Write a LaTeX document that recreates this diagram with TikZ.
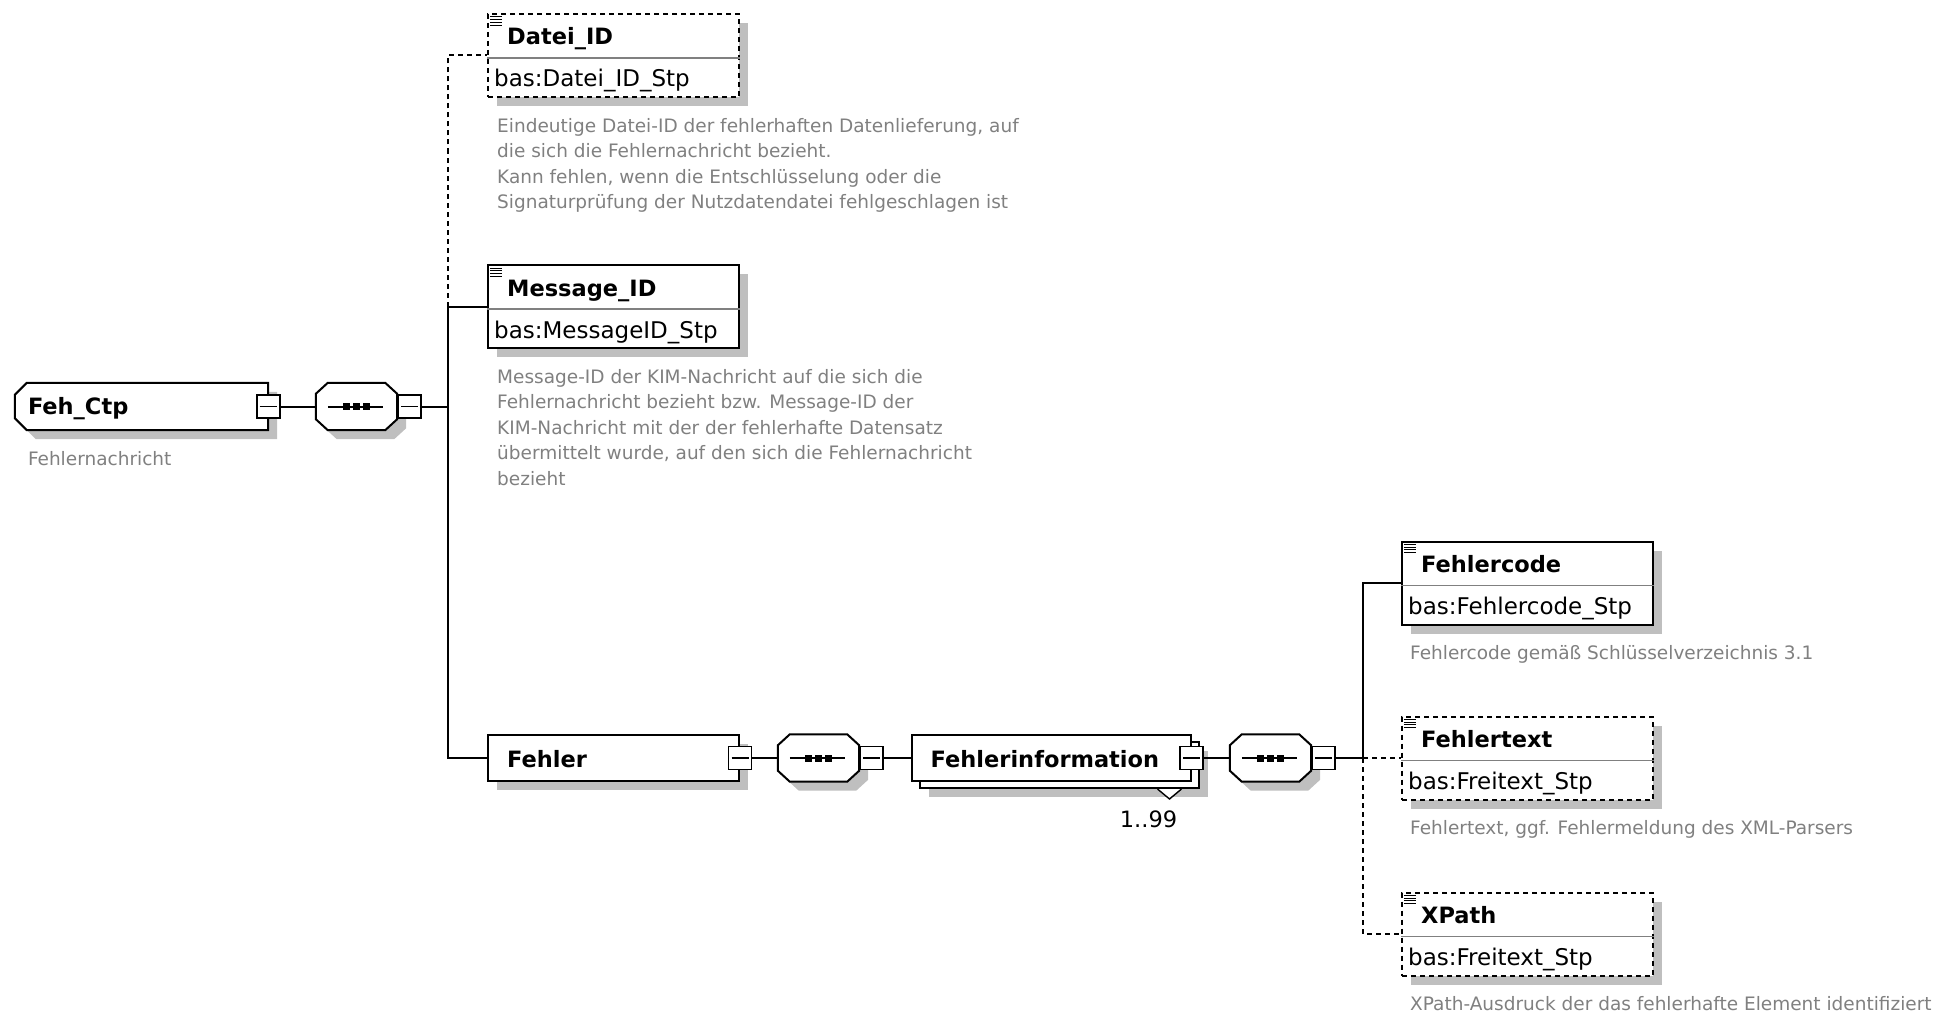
\documentclass[tikz,border=0pt]{standalone}
\usepackage{fontspec}
\setmainfont{DejaVu Sans}
\usepackage{tikz}
\usetikzlibrary{shadows,positioning,calc}

% chamfered outline of a sequence compositor, with its glyph
\newcommand{\seqshape}[1]{%
    \draw[outline, boxshadow] ($(#1.north west)+(12,0)$) -- ($(#1.north east)+(-12,0)$)
        -- ($(#1.north east)+(0,11)$) -- ($(#1.south east)+(0,-11)$)
        -- ($(#1.south east)+(-12,0)$) -- ($(#1.south west)+(12,0)$)
        -- ($(#1.south west)+(0,-11)$) -- ($(#1.north west)+(0,11)$) -- cycle;
    \draw[conn] ($(#1.west)+(12,0)$) -- ($(#1.east)+(-14,0)$);
    \foreach \d in {-10,0,10}
        \fill ($(#1.center)+(\d,0)$) +(-3.5,-3.5) rectangle +(3.5,3.5);
}

\begin{document}
\begin{tikzpicture}[x=1pt, y=-1pt,
    boxshadow/.style={drop shadow={shadow xshift=9pt, shadow yshift=-9pt, fill=black!25, opacity=1}},
    outline/.style={draw, line width=2pt, fill=white},
    hold/.style={rectangle, inner sep=0pt},
    plain/.style={outline, rectangle, inner sep=0pt},
    elem/.style={plain, boxshadow, minimum width=251pt, minimum height=83pt},
    optelem/.style={elem, dash pattern=on 5pt off 4pt},
    bar/.style={plain, minimum width=251pt, minimum height=46pt},
    minus/.style={draw, rectangle, line width=1.6pt, fill=white, inner sep=0pt, minimum size=23pt,
        path picture={\draw[line width=1.4pt] ([xshift=3pt]path picture bounding box.west)
            -- ([xshift=-3pt]path picture bounding box.east);}},
    conn/.style={line width=2pt},
    optconn/.style={conn, dash pattern=on 5pt off 4pt},
    divider/.style={line width=1.4pt, black!50},
    icon/.style={line width=1pt, black},
    ttl/.style={font=\fontsize{22.5}{27}\selectfont\bfseries, inner sep=0pt, anchor=base west},
    typ/.style={font=\fontsize{23}{27}\selectfont, inner sep=0pt, anchor=base west},
    doc/.style={font=\fontsize{18.5}{25.5}\selectfont, text=black!50, align=left, inner sep=0pt, anchor=north west},
    card/.style={font=\fontsize{22.5}{27}\selectfont, inner sep=0pt, anchor=base}
]
    \useasboundingbox (0,0) rectangle (1941,1014);

    % Root element
    \node[hold, minimum width=253pt, minimum height=47pt] (feh) at (141.5,406.5) {};
    \draw[outline, boxshadow] ($(feh.north west)+(12,0)$) -- (feh.north east) -- (feh.south east)
        -- ($(feh.south west)+(12,0)$) -- ($(feh.south west)+(0,-12)$)
        -- ($(feh.north west)+(0,12)$) -- cycle;
    \node[ttl] (fehName) at ($(feh.west)+(13,8)$) {Feh\_Ctp};
    \node[minus] (fehM) at (feh.east) {};
    \node[doc] (fehDoc) at ($(feh.west)+(13,45)$) {Fehlernachricht};

    % First sequence
    \node[hold, minimum width=81pt, minimum height=47pt] (seq1) at (356.5,406.5) {};
    \seqshape{seq1}
    \node[minus, anchor=west] (seq1M) at (seq1.east) {};
    \coordinate (t1) at (448,406.5);

    % Datei_ID (optional)
    \node[optelem] (datei) at (613.5,55.5) {};
    \node[ttl] (dateiName) at ($(datei.north west)+(20,32)$) {Datei\_ID};
    \node[typ] (dateiType) at ($(datei.north west)+(7,74)$) {bas:Datei\_ID\_Stp};
    \node[doc] (dateiDoc) at ($(datei.south west)+(10,20)$) {Eindeutige Datei-ID der fehlerhaften Datenlieferung, auf\\
        die sich die Fehlernachricht bezieht.\\
        Kann fehlen, wenn die Entschlüsselung oder die\\
        Signaturprüfung der Nutzdatendatei fehlgeschlagen ist};

    % Message_ID
    \node[elem] (msg) at (613.5,306.5) {};
    \node[ttl] (msgName) at ($(msg.north west)+(20,32)$) {Message\_ID};
    \node[typ] (msgType) at ($(msg.north west)+(7,74)$) {bas:MessageID\_Stp};
    \node[doc] (msgDoc) at ($(msg.south west)+(10,20)$) {Message-ID der KIM-Nachricht auf die sich die\\
        Fehlernachricht bezieht bzw. Message-ID der\\
        KIM-Nachricht mit der der fehlerhafte Datensatz\\
        übermittelt wurde, auf den sich die Fehlernachricht\\
        bezieht};

    % Fehler
    \node[bar, boxshadow] (fehler) at (613.5,758) {};
    \node[ttl] (fehlerName) at ($(fehler.west)+(20,9)$) {Fehler};
    \node[minus] (fehlerM) at (fehler.east) {};

    \node[hold, minimum width=81pt, minimum height=47pt] (seq2) at (818.5,758) {};
    \seqshape{seq2}
    \node[minus, anchor=west] (seq2M) at (seq2.east) {};

    % Fehlerinformation (1..99)
    \node[bar, boxshadow, minimum width=279pt] (infoB) at (1059,765) {};
    \draw[line width=1.4pt, fill=white] ([xshift=-42pt]infoB.south east) -- ++(12,10) -- ++(12,-10);
    \node[bar, minimum width=279pt] (info) at (1051,758) {};
    \node[ttl] (infoName) at ($(info.west)+(20,9)$) {Fehlerinformation};
    \node[minus] (infoM) at (info.east) {};
    \node[card] (infoCard) at ($(infoB.south east)+(-51,38)$) {1..99};

    \node[hold, minimum width=81pt, minimum height=47pt] (seq3) at (1270.5,758) {};
    \seqshape{seq3}
    \node[minus, anchor=west] (seq3M) at (seq3.east) {};
    \coordinate (t2) at (1363,758);

    % Fehlercode
    \node[elem] (code) at (1527.5,583) {};
    \node[ttl] (codeName) at ($(code.north west)+(20,32)$) {Fehlercode};
    \node[typ] (codeType) at ($(code.north west)+(7,74)$) {bas:Fehlercode\_Stp};
    \node[doc] (codeDoc) at ($(code.south west)+(9,20)$) {Fehlercode gemäß Schlüsselverzeichnis 3.1};

    % Fehlertext (optional)
    \node[optelem] (ftext) at (1527.5,758) {};
    \node[ttl] (ftextName) at ($(ftext.north west)+(20,32)$) {Fehlertext};
    \node[typ] (ftextType) at ($(ftext.north west)+(7,74)$) {bas:Freitext\_Stp};
    \node[doc] (ftextDoc) at ($(ftext.south west)+(9,20)$) {Fehlertext, ggf. Fehlermeldung des XML-Parsers};

    % XPath (optional)
    \node[optelem] (xpath) at (1527.5,934) {};
    \node[ttl] (xpathName) at ($(xpath.north west)+(20,32)$) {XPath};
    \node[typ] (xpathType) at ($(xpath.north west)+(7,74)$) {bas:Freitext\_Stp};
    \node[doc] (xpathDoc) at ($(xpath.south west)+(9,20)$) {XPath-Ausdruck der das fehlerhafte Element identifiziert};

    % dividers and icons
    \foreach \el in {datei,msg,code,ftext,xpath} {
        \draw[divider] ($(\el.west)+(0,2.5)$) -- ($(\el.east)+(0,2.5)$);
        \foreach \k in {0,...,3}
            \draw[icon] ($(\el.north west)+(3,4+2.7*\k)$) -- ++(12,0);
    }

    % connectors
    \draw[conn] (fehM.east) -- (seq1.west);
    \draw[conn] (seq1M.east) -- (t1);
    \draw[conn] (msg.west) -| (t1) |- (fehler.west);
    \draw[optconn] (msg.west -| t1) |- (datei.west);
    \draw[conn] (fehlerM.east) -- (seq2.west);
    \draw[conn] (seq2M.east) -- (info.west);
    \draw[conn] (infoM.east) -- (seq3.west);
    \draw[conn] (seq3M.east) -- (t2);
    \draw[conn] (t2) |- (code.west);
    \draw[optconn] (t2) -- (ftext.west);
    \draw[optconn] (t2) |- (xpath.west);
\end{tikzpicture}
\end{document}
